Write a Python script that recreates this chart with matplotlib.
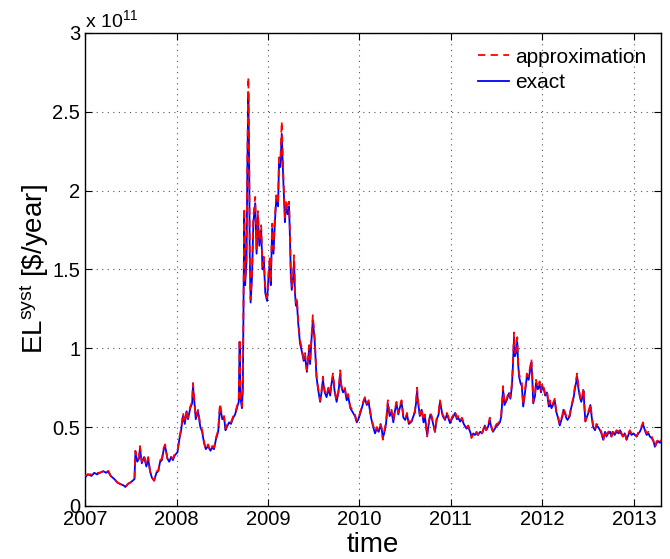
import matplotlib
matplotlib.use('Agg')
import matplotlib.pyplot as plt

plt.rcParams['font.family'] = ['Liberation Sans', 'DejaVu Sans']
plt.rcParams['mathtext.default'] = 'regular'

# time in decimal years, values in units of 1e11 $/year
time = [
    2007.00, 2007.03, 2007.07, 2007.10, 2007.13, 2007.16, 2007.20, 2007.23, 2007.25, 2007.28,
    2007.32, 2007.35, 2007.38, 2007.42, 2007.44, 2007.47, 2007.50, 2007.52, 2007.54, 2007.55,
    2007.57, 2007.59, 2007.60, 2007.62, 2007.645, 2007.67, 2007.69, 2007.71, 2007.73, 2007.755,
    2007.78, 2007.80, 2007.82, 2007.84, 2007.86, 2007.875, 2007.90, 2007.92, 2007.94, 2007.96,
    2007.98, 2008.01, 2008.03, 2008.05, 2008.07, 2008.09, 2008.11, 2008.125, 2008.15, 2008.17,
    2008.18, 2008.195, 2008.21, 2008.235, 2008.26, 2008.28, 2008.30, 2008.32, 2008.345, 2008.37,
    2008.39, 2008.41, 2008.43, 2008.455, 2008.475, 2008.50, 2008.52, 2008.535, 2008.55, 2008.575,
    2008.595, 2008.62, 2008.64, 2008.66, 2008.68, 2008.69, 2008.70, 2008.715, 2008.725, 2008.74,
    2008.75, 2008.765, 2008.775, 2008.785, 2008.795, 2008.80, 2008.81, 2008.825, 2008.84, 2008.86,
    2008.875, 2008.89, 2008.905, 2008.925, 2008.94, 2008.955, 2008.97, 2008.99, 2009.005, 2009.02,
    2009.03, 2009.045, 2009.06, 2009.075, 2009.09, 2009.11, 2009.12, 2009.135, 2009.15, 2009.165,
    2009.175, 2009.185, 2009.195, 2009.215, 2009.23, 2009.24, 2009.25, 2009.26, 2009.275, 2009.285,
    2009.295, 2009.305, 2009.315, 2009.33, 2009.35, 2009.37, 2009.39, 2009.405, 2009.425, 2009.45,
    2009.46, 2009.48, 2009.49, 2009.51, 2009.53, 2009.545, 2009.57, 2009.585, 2009.60, 2009.62,
    2009.64, 2009.66, 2009.68, 2009.695, 2009.71, 2009.73, 2009.75, 2009.77, 2009.79, 2009.80,
    2009.82, 2009.84, 2009.86, 2009.875, 2009.90, 2009.93, 2009.95, 2009.97, 2009.985, 2010.005,
    2010.025, 2010.045, 2010.06, 2010.08, 2010.10, 2010.115, 2010.13, 2010.15, 2010.17, 2010.19,
    2010.21, 2010.23, 2010.245, 2010.255, 2010.27, 2010.29, 2010.31, 2010.33, 2010.35, 2010.37,
    2010.39, 2010.405, 2010.425, 2010.44, 2010.46, 2010.48, 2010.50, 2010.52, 2010.54, 2010.57,
    2010.59, 2010.605, 2010.62, 2010.63, 2010.64, 2010.66, 2010.68, 2010.70, 2010.715, 2010.74,
    2010.76, 2010.775, 2010.79, 2010.81, 2010.825, 2010.845, 2010.865, 2010.88, 2010.90, 2010.91,
    2010.935, 2010.955, 2010.97, 2010.99, 2011.01, 2011.03, 2011.045, 2011.065, 2011.08, 2011.10,
    2011.12, 2011.14, 2011.17, 2011.19, 2011.21, 2011.225, 2011.245, 2011.26, 2011.28, 2011.295,
    2011.32, 2011.34, 2011.36, 2011.37, 2011.385, 2011.405, 2011.425, 2011.44, 2011.46, 2011.48,
    2011.50, 2011.51, 2011.535, 2011.55, 2011.57, 2011.585, 2011.61, 2011.635, 2011.65, 2011.665,
    2011.675, 2011.69, 2011.70, 2011.71, 2011.725, 2011.735, 2011.745, 2011.76, 2011.775, 2011.79,
    2011.81, 2011.83, 2011.85, 2011.865, 2011.88, 2011.89, 2011.90, 2011.92, 2011.93, 2011.95,
    2011.97, 2011.985, 2012.00, 2012.02, 2012.03, 2012.05, 2012.07, 2012.08, 2012.10, 2012.115,
    2012.135, 2012.15, 2012.17, 2012.19, 2012.205, 2012.22, 2012.23, 2012.25, 2012.26, 2012.275,
    2012.30, 2012.31, 2012.335, 2012.345, 2012.355, 2012.38, 2012.39, 2012.41, 2012.425, 2012.44,
    2012.45, 2012.46, 2012.47, 2012.49, 2012.51, 2012.525, 2012.54, 2012.555, 2012.575, 2012.59,
    2012.61, 2012.63, 2012.645, 2012.665, 2012.685, 2012.70, 2012.72, 2012.74, 2012.755, 2012.77,
    2012.79, 2012.81, 2012.835, 2012.85, 2012.86, 2012.88, 2012.90, 2012.92, 2012.94, 2012.955,
    2012.975, 2012.995, 2013.01, 2013.03, 2013.05, 2013.065, 2013.08, 2013.10, 2013.12, 2013.14,
    2013.16, 2013.175, 2013.195, 2013.215, 2013.23, 2013.25, 2013.27, 2013.285, 2013.295,
]

exact = [
    0.18, 0.20, 0.19, 0.21, 0.20, 0.21, 0.22, 0.21, 0.22, 0.19,
    0.17, 0.15, 0.14, 0.13, 0.12, 0.14, 0.15, 0.16, 0.17, 0.34,
    0.28, 0.30, 0.37, 0.27, 0.31, 0.25, 0.30, 0.22, 0.18, 0.16,
    0.21, 0.22, 0.28, 0.29, 0.36, 0.38, 0.30, 0.28, 0.31, 0.29,
    0.32, 0.34, 0.42, 0.48, 0.57, 0.52, 0.60, 0.55, 0.62, 0.65,
    0.76, 0.66, 0.55, 0.60, 0.50, 0.47, 0.40, 0.36, 0.38, 0.35,
    0.37, 0.36, 0.42, 0.47, 0.63, 0.55, 0.56, 0.48, 0.50, 0.53,
    0.52, 0.56, 0.58, 0.62, 0.66, 1.04, 0.68, 0.62, 0.75, 1.85,
    1.40, 1.55, 2.20, 2.62, 2.10, 1.60, 1.29, 1.45, 1.80, 1.92,
    1.60, 1.84, 1.65, 1.75, 1.50, 1.55, 1.35, 1.30, 1.45, 1.55,
    1.40, 1.76, 1.60, 1.80, 1.94, 1.90, 2.17, 2.15, 2.36, 2.10,
    1.95, 1.80, 1.90, 1.85, 1.90, 1.70, 1.45, 1.37, 1.45, 1.55,
    1.35, 1.27, 1.30, 1.16, 1.03, 0.98, 0.92, 0.95, 0.85, 1.00,
    0.90, 1.10, 1.18, 1.05, 0.82, 0.75, 0.66, 0.72, 0.80, 0.72,
    0.69, 0.74, 0.70, 0.78, 0.82, 0.72, 0.66, 0.72, 0.84, 0.76,
    0.72, 0.74, 0.67, 0.70, 0.62, 0.59, 0.57, 0.53, 0.545, 0.58,
    0.62, 0.66, 0.68, 0.64, 0.66, 0.60, 0.55, 0.50, 0.46, 0.49,
    0.47, 0.51, 0.48, 0.43, 0.46, 0.52, 0.65, 0.57, 0.60, 0.53,
    0.61, 0.65, 0.58, 0.62, 0.66, 0.56, 0.545, 0.58, 0.52, 0.535,
    0.57, 0.59, 0.66, 0.73, 0.66, 0.57, 0.61, 0.53, 0.57, 0.45,
    0.53, 0.58, 0.56, 0.51, 0.47, 0.55, 0.58, 0.66, 0.60, 0.57,
    0.545, 0.58, 0.56, 0.525, 0.55, 0.57, 0.59, 0.55, 0.56, 0.535,
    0.55, 0.52, 0.49, 0.50, 0.47, 0.44, 0.46, 0.45, 0.46, 0.45,
    0.47, 0.46, 0.49, 0.51, 0.48, 0.50, 0.545, 0.50, 0.47, 0.49,
    0.51, 0.51, 0.53, 0.565, 0.74, 0.64, 0.67, 0.715, 0.68, 0.75,
    0.85, 1.07, 0.95, 0.97, 1.04, 0.90, 0.82, 0.78, 0.76, 0.63,
    0.72, 0.82, 0.80, 0.86, 0.91, 0.80, 0.65, 0.70, 0.78, 0.74,
    0.77, 0.72, 0.76, 0.73, 0.70, 0.72, 0.63, 0.66, 0.62, 0.64,
    0.67, 0.60, 0.56, 0.51, 0.54, 0.57, 0.61, 0.58, 0.56, 0.545,
    0.57, 0.61, 0.67, 0.70, 0.74, 0.82, 0.76, 0.69, 0.66, 0.70,
    0.73, 0.62, 0.535, 0.57, 0.60, 0.64, 0.56, 0.50, 0.48, 0.51,
    0.50, 0.48, 0.46, 0.42, 0.47, 0.44, 0.46, 0.47, 0.44, 0.47,
    0.45, 0.47, 0.46, 0.48, 0.46, 0.44, 0.46, 0.42, 0.45, 0.47,
    0.45, 0.46, 0.45, 0.44, 0.46, 0.47, 0.49, 0.52, 0.48, 0.45,
    0.46, 0.44, 0.43, 0.41, 0.375, 0.40, 0.41, 0.40, 0.41,
]

approximation = [
    0.19, 0.20, 0.20, 0.21, 0.21, 0.21, 0.22, 0.22, 0.23, 0.19,
    0.17, 0.15, 0.14, 0.13, 0.12, 0.14, 0.15, 0.16, 0.17, 0.35,
    0.29, 0.31, 0.38, 0.28, 0.32, 0.26, 0.31, 0.22, 0.18, 0.16,
    0.22, 0.22, 0.29, 0.30, 0.37, 0.39, 0.30, 0.29, 0.31, 0.30,
    0.33, 0.35, 0.43, 0.49, 0.59, 0.53, 0.61, 0.56, 0.63, 0.66,
    0.78, 0.67, 0.56, 0.61, 0.51, 0.48, 0.41, 0.36, 0.39, 0.35,
    0.38, 0.37, 0.43, 0.48, 0.65, 0.56, 0.57, 0.49, 0.51, 0.54,
    0.53, 0.57, 0.59, 0.63, 0.67, 1.06, 0.69, 0.63, 0.77, 1.89,
    1.43, 1.58, 2.25, 2.72, 2.15, 1.63, 1.31, 1.48, 1.84, 1.96,
    1.63, 1.87, 1.68, 1.78, 1.52, 1.58, 1.37, 1.32, 1.48, 1.58,
    1.42, 1.79, 1.63, 1.83, 1.97, 1.93, 2.21, 2.19, 2.44, 2.14,
    1.98, 1.83, 1.94, 1.88, 1.93, 1.73, 1.47, 1.39, 1.48, 1.59,
    1.37, 1.29, 1.32, 1.18, 1.05, 1.00, 0.93, 0.97, 0.86, 1.02,
    0.91, 1.12, 1.21, 1.07, 0.83, 0.76, 0.67, 0.73, 0.82, 0.73,
    0.70, 0.75, 0.71, 0.79, 0.84, 0.73, 0.67, 0.73, 0.86, 0.77,
    0.73, 0.75, 0.68, 0.71, 0.63, 0.60, 0.58, 0.54, 0.55, 0.59,
    0.63, 0.67, 0.69, 0.65, 0.67, 0.61, 0.56, 0.51, 0.47, 0.50,
    0.48, 0.52, 0.49, 0.42, 0.47, 0.53, 0.67, 0.58, 0.61, 0.54,
    0.62, 0.66, 0.59, 0.63, 0.67, 0.57, 0.55, 0.59, 0.53, 0.54,
    0.58, 0.60, 0.67, 0.75, 0.67, 0.58, 0.62, 0.54, 0.58, 0.44,
    0.54, 0.59, 0.57, 0.52, 0.47, 0.56, 0.59, 0.67, 0.61, 0.58,
    0.55, 0.59, 0.57, 0.53, 0.56, 0.58, 0.60, 0.56, 0.57, 0.54,
    0.56, 0.53, 0.50, 0.51, 0.47, 0.43, 0.46, 0.45, 0.47, 0.45,
    0.48, 0.46, 0.50, 0.52, 0.48, 0.51, 0.56, 0.51, 0.47, 0.50,
    0.52, 0.52, 0.54, 0.58, 0.76, 0.65, 0.68, 0.73, 0.69, 0.77,
    0.87, 1.10, 0.97, 0.99, 1.07, 0.92, 0.84, 0.80, 0.78, 0.64,
    0.73, 0.84, 0.82, 0.88, 0.93, 0.82, 0.66, 0.71, 0.80, 0.75,
    0.79, 0.73, 0.78, 0.74, 0.71, 0.73, 0.64, 0.67, 0.63, 0.65,
    0.68, 0.61, 0.57, 0.52, 0.55, 0.58, 0.62, 0.59, 0.57, 0.55,
    0.58, 0.62, 0.68, 0.71, 0.76, 0.84, 0.78, 0.70, 0.67, 0.71,
    0.75, 0.63, 0.54, 0.58, 0.61, 0.65, 0.57, 0.51, 0.48, 0.52,
    0.51, 0.49, 0.47, 0.41, 0.48, 0.45, 0.47, 0.48, 0.44, 0.48,
    0.46, 0.48, 0.47, 0.49, 0.47, 0.44, 0.47, 0.42, 0.46, 0.48,
    0.46, 0.47, 0.46, 0.44, 0.47, 0.48, 0.50, 0.53, 0.49, 0.46,
    0.47, 0.45, 0.44, 0.41, 0.37, 0.41, 0.42, 0.40, 0.42,
]

year_ticks = [2007, 2008, 2009, 2010, 2011, 2012, 2013]
y_ticks = [0, 0.5, 1, 1.5, 2, 2.5, 3]
y_ticklabels = ['0', '0.5', '1', '1.5', '2', '2.5', '3']

fig = plt.figure(figsize=(6.7, 5.59), dpi=100)
ax = fig.add_axes([0.127, 0.095, 0.86, 0.846])

ax.plot(time, exact, color='blue', linewidth=1.3, label='exact', zorder=2)
ax.plot(time, approximation, color='red', linestyle=(0, (4, 3)), linewidth=1.3,
        label='approximation', zorder=3)

ax.set_xlim(2007, 2013.3)
ax.set_ylim(0, 3)
ax.set_xticks(year_ticks)
ax.set_xticklabels([str(y) for y in year_ticks])
ax.set_yticks(y_ticks)
ax.set_yticklabels(y_ticklabels)
ax.tick_params(direction='in', top=True, right=True, labelsize=14.5, length=5, width=0.8)
ax.tick_params(axis='x', pad=3)
ax.grid(True, linestyle=(0, (1, 4)), color='#555555', linewidth=0.8)
for s in ax.spines.values():
    s.set_linewidth(1.0)

ax.text(0.0, 1.005, r'x 10$^{11}$', transform=ax.transAxes, fontsize=14,
        ha='left', va='bottom')
ax.set_xlabel('time', fontsize=20, labelpad=2)
ax.set_ylabel(r'EL$^{syst}$ [\$/year]', fontsize=20, labelpad=1)

handles, labels = ax.get_legend_handles_labels()
ax.legend(handles[::-1], labels[::-1], loc='upper right', frameon=False, fontsize=15,
          handlelength=1.5, handletextpad=0.3, borderaxespad=0.3, labelspacing=0.3)

plt.savefig('out.png', dpi=100)
